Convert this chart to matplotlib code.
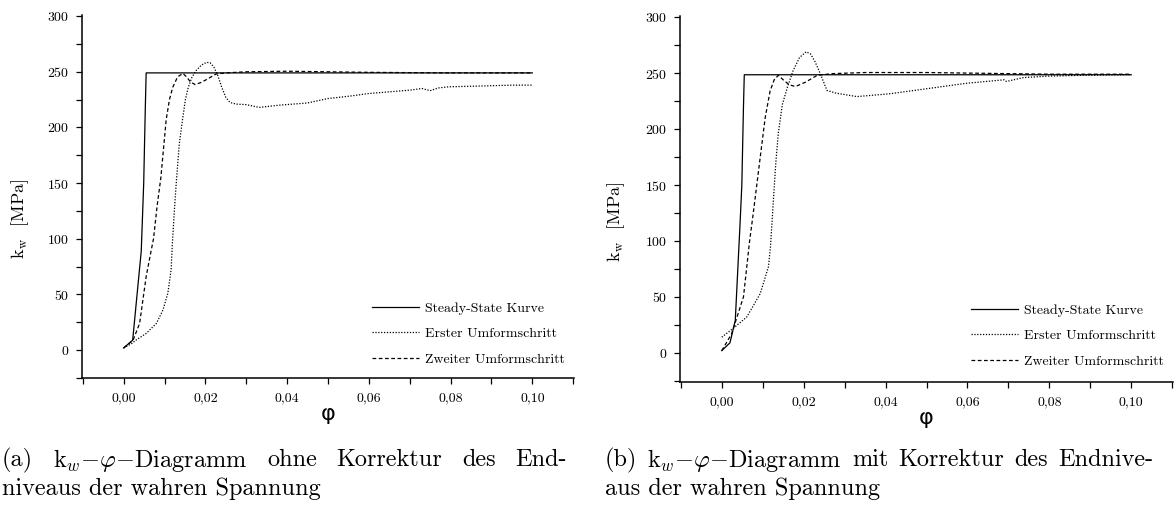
import matplotlib
matplotlib.use('Agg')
import matplotlib.pyplot as plt
from matplotlib.ticker import FixedLocator, FixedFormatter

plt.rcParams['font.family'] = ['cmr10', 'DejaVu Serif']
plt.rcParams['mathtext.fontset'] = 'cm'
plt.rcParams['axes.unicode_minus'] = False
plt.rcParams['axes.formatter.use_mathtext'] = True

# --- data, panel (a): ohne Korrektur ---
phi_ss_a = [0, 0.0022, 0.0043, 0.0049, 0.0053, 0.0055, 0.100]
kw_ss_a = [2, 9, 89, 150, 219, 249, 249]

phi_1_a = [0, 0.002, 0.003, 0.0055, 0.008, 0.0096, 0.0108, 0.0116, 0.0119, 0.0124,
           0.0129, 0.0136, 0.0144, 0.0151, 0.0158, 0.0167, 0.0177, 0.0190, 0.0203,
           0.0212, 0.0221, 0.0230, 0.0240, 0.0250, 0.0260, 0.0275, 0.030, 0.0332,
           0.0356, 0.038, 0.045, 0.050, 0.055, 0.060, 0.065, 0.070, 0.073, 0.075,
           0.077, 0.0795, 0.085, 0.090, 0.095, 0.100]
kw_1_a = [2, 6, 9, 15, 24, 36, 51, 72, 95, 125,
          152, 185, 207, 225, 236, 245, 251, 256, 258.5,
          258, 254, 247, 236, 227, 222.5, 221, 220.5, 218,
          219, 220, 222, 226, 228, 230.5, 232, 233.5, 235, 233,
          235.5, 236.5, 237, 237.5, 238, 238]

phi_2_a = [0, 0.0023, 0.0039, 0.0047, 0.0055, 0.0067, 0.0073, 0.0082, 0.0091, 0.0104,
           0.0112, 0.0120, 0.0132, 0.0145, 0.0155, 0.0163, 0.0175, 0.0190, 0.0205,
           0.0226, 0.025, 0.030, 0.040, 0.050, 0.060, 0.080, 0.100]
kw_2_a = [2, 9, 24, 45, 66, 89, 100, 130, 155, 207,
          225, 236, 245.5, 248.5, 245, 241, 238.5, 240.5, 243.5,
          248, 249, 250, 250.5, 250, 249.5, 249, 249]

# --- data, panel (b): mit Korrektur ---
phi_ss_b = [0, 0.002, 0.0033, 0.0045, 0.0049, 0.0053, 0.0055, 0.100]
kw_ss_b = [2, 9, 29, 118, 150, 220, 248.5, 248.5]

phi_1_b = [0, 0.0028, 0.0061, 0.0094, 0.0114, 0.0119, 0.0126, 0.0132, 0.0138, 0.0148,
           0.016, 0.0174, 0.019, 0.0206, 0.0217, 0.0228, 0.024, 0.0257, 0.028, 0.033,
           0.041, 0.050, 0.060, 0.069, 0.0695, 0.0737, 0.080, 0.088, 0.100]
kw_1_b = [14, 22, 32, 53, 77, 95, 136, 170, 196, 222,
          237, 252, 264, 269, 267, 260, 250, 234.5, 232, 229,
          231.5, 236, 241, 244, 242.5, 246, 247.3, 248, 248.6]

phi_2_b = [0, 0.0024, 0.0053, 0.0068, 0.0077, 0.0094, 0.0106, 0.0118, 0.0128, 0.0138,
           0.0150, 0.0165, 0.018, 0.0205, 0.0233, 0.027, 0.035, 0.050, 0.060, 0.080, 0.100]
kw_2_b = [2, 17, 50, 100, 125, 175, 210, 234, 244, 248,
          244, 239.5, 238, 242, 248, 249.5, 250.5, 250.5, 250, 249, 249]

series_labels = ['Steady-State Kurve', 'Erster Umformschritt', 'Zweiter Umformschritt']
x_ticks = [0.00, 0.02, 0.04, 0.06, 0.08, 0.10]
x_ticklabels = ['0,00', '0,02', '0,04', '0,06', '0,08', '0,10']
y_ticks = [0, 50, 100, 150, 200, 250, 300]

caption_a = [['(a)', 'k$_w$$-$$\\varphi$$-$Diagramm', 'ohne', 'Korrektur', 'des', 'End-'],
             'niveaus der wahren Spannung']
caption_b = [['(b)', 'k$_w$$-$$\\varphi$$-$Diagramm', 'mit', 'Korrektur', 'des', 'Endnive-'],
             'aus der wahren Spannung']

W, H = 1175, 507
fig = plt.figure(figsize=(W / 100, H / 100), dpi=100)


def draw_panel(rect, data, ylim, label_xy, legend_anchor):
    ax = fig.add_axes(rect)
    (p_ss, k_ss), (p1, k1), (p2, k2) = data
    ax.plot(p_ss, k_ss, color='black', lw=0.9, ls='-', label=series_labels[0])
    ax.plot(p1, k1, color='black', lw=0.9, ls=(0, (1, 1.3)), label=series_labels[1])
    ax.plot(p2, k2, color='black', lw=0.9, ls=(0, (3, 2)), label=series_labels[2])
    ax.set_xlim(-0.0102, 0.1102)
    ax.set_ylim(*ylim)
    for s in ['top', 'right']:
        ax.spines[s].set_visible(False)
    for s in ['left', 'bottom']:
        ax.spines[s].set_linewidth(1.1)
    ax.xaxis.set_major_locator(FixedLocator(x_ticks))
    ax.xaxis.set_major_formatter(FixedFormatter(x_ticklabels))
    ax.xaxis.set_minor_locator(FixedLocator([-0.01, 0.01, 0.03, 0.05, 0.07, 0.09, 0.11]))
    ax.yaxis.set_major_locator(FixedLocator(y_ticks))
    ax.yaxis.set_minor_locator(FixedLocator([-25, 25, 75, 125, 175, 225, 275]))
    ax.tick_params(which='both', direction='out', length=4, width=0.9, labelsize=10)
    ax.tick_params(axis='x', pad=6)
    ax.tick_params(axis='y', pad=5)
    ax.set_xlabel('φ', family='DejaVu Sans', fontsize=16, labelpad=0)
    ax.set_ylabel('k$_{\\rm w}$  [MPa]', fontsize=13)
    ax.yaxis.set_label_coords(*label_xy)
    ax.legend(loc='lower right', bbox_to_anchor=legend_anchor, frameon=False,
              fontsize=10, handlelength=3.4, handletextpad=0.45, labelspacing=0.92,
              borderpad=0, borderaxespad=0)
    return ax


draw_panel([82 / W, 1 - 378 / H, 492 / W, 363 / H],
           [(phi_ss_a, kw_ss_a), (phi_1_a, kw_1_a), (phi_2_a, kw_2_a)],
           (-25, 301), (-0.104, 0.438), (0.982, 0.034))
draw_panel([680 / W, 1 - 382 / H, 493 / W, 366 / H],
           [(phi_ss_b, kw_ss_b), (phi_1_b, kw_1_b), (phi_2_b, kw_2_b)],
           (-26, 301), (-0.107, 0.437), (0.982, 0.039))


def caption(x0, x1, words, line2):
    # first line justified between x0 and x1 (pixels), second line left aligned
    r = fig.canvas.get_renderer()
    y1 = 1 - 466.5 / H
    y2 = 1 - 495 / H
    ts = [fig.text(0, y1, w, fontsize=17.5, va='baseline') for w in words]
    widths = [t.get_window_extent(r).width for t in ts]
    gap = (x1 - x0 - sum(widths)) / (len(words) - 1)
    x = x0
    for t, w in zip(ts, widths):
        t.set_x(x / W)
        x += w + gap
    fig.text(x0 / W, y2, line2, fontsize=17.5, va='baseline')


caption(2, 567, *caption_a)
caption(605, 1153, *caption_b)

fig.savefig('out.png', dpi=100)
